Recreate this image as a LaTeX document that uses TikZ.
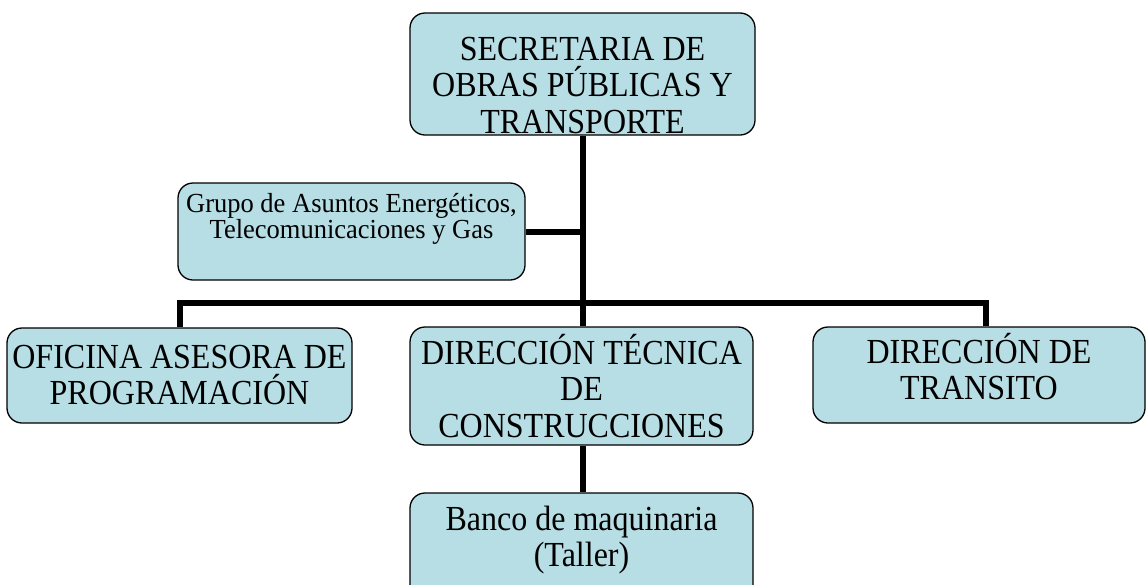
\documentclass[tikz,border=0pt]{standalone}
\usepackage{fontspec}
\usepackage{graphicx}
\setmainfont{Liberation Serif}
\definecolor{boxfill}{RGB}{183,222,228}
\newcommand{\bigtxt}[1]{\scalebox{1}[1.1]{\parbox[t]{360pt}{\lineskiplimit=-100pt\fontsize{32}{33.2}\selectfont\centering #1}}}
\newcommand{\smalltxt}[1]{\scalebox{1}[1.04]{\parbox[t]{360pt}{\lineskiplimit=-100pt\fontsize{26.5}{25.5}\selectfont\centering #1}}}
\begin{document}
\begin{tikzpicture}[x=1pt,y=-1pt,
  box/.style={draw=black, line width=1.3pt, fill=boxfill, rounded corners=15pt, inner sep=0pt},
  lbl/.style={inner sep=0pt, anchor=base},
  conn/.style={line width=6pt}]
\useasboundingbox (0,0) rectangle (1146,584);
\clip (0,0) rectangle (1146,584);
% boxes
\node[box, minimum width=345pt, minimum height=122pt] (sec) at (582.5,74) {};
\node[box, minimum width=347pt, minimum height=97pt] (grp) at (351.5,231.5) {};
\node[box, minimum width=345pt, minimum height=95pt] (ofi) at (179.5,375.5) {};
\node[box, minimum width=343pt, minimum height=118pt] (dtc) at (581.5,386) {};
\node[box, minimum width=332pt, minimum height=96pt] (dtr) at (979,375) {};
\node[box, minimum width=343pt, minimum height=120pt] (ban) at (581.5,553) {};
% texts
\node[lbl] (sect) at (582.5,60) {\bigtxt{SECRETARIA DE\\OBRAS PÚBLICAS Y\\TRANSPORTE}};
\node[lbl] (grpt) at (351.5,212) {\smalltxt{Grupo de Asuntos Energéticos,\\Telecomunicaciones y Gas}};
\node[lbl] (ofit) at (179.5,368) {\bigtxt{OFICINA ASESORA DE\\PROGRAMACIÓN}};
\node[lbl] (dtct) at (581.5,364) {\bigtxt{DIRECCIÓN TÉCNICA\\DE\\CONSTRUCCIONES}};
\node[lbl] (dtrt) at (979,363) {\bigtxt{DIRECCIÓN DE\\TRANSITO}};
\node[lbl] (bant) at (581.5,530) {\bigtxt{Banco de maquinaria\\(Taller)}};
% connectors
\coordinate (bl) at (180,303);
\coordinate (br) at (986,303);
\draw[conn] (sec.south -| 583,0) -- (dtc.north -| 583,0);
\draw[conn] (grp.east) -- (grp.east -| 583,0);
\draw[conn, line cap=rect] (bl) -- (br);
\draw[conn] (bl) -- (bl |- ofi.north);
\draw[conn] (br) -- (br |- dtr.north);
\draw[conn] (dtc.south -| 583,0) -- (ban.north -| 583,0);
\end{tikzpicture}
\end{document}
